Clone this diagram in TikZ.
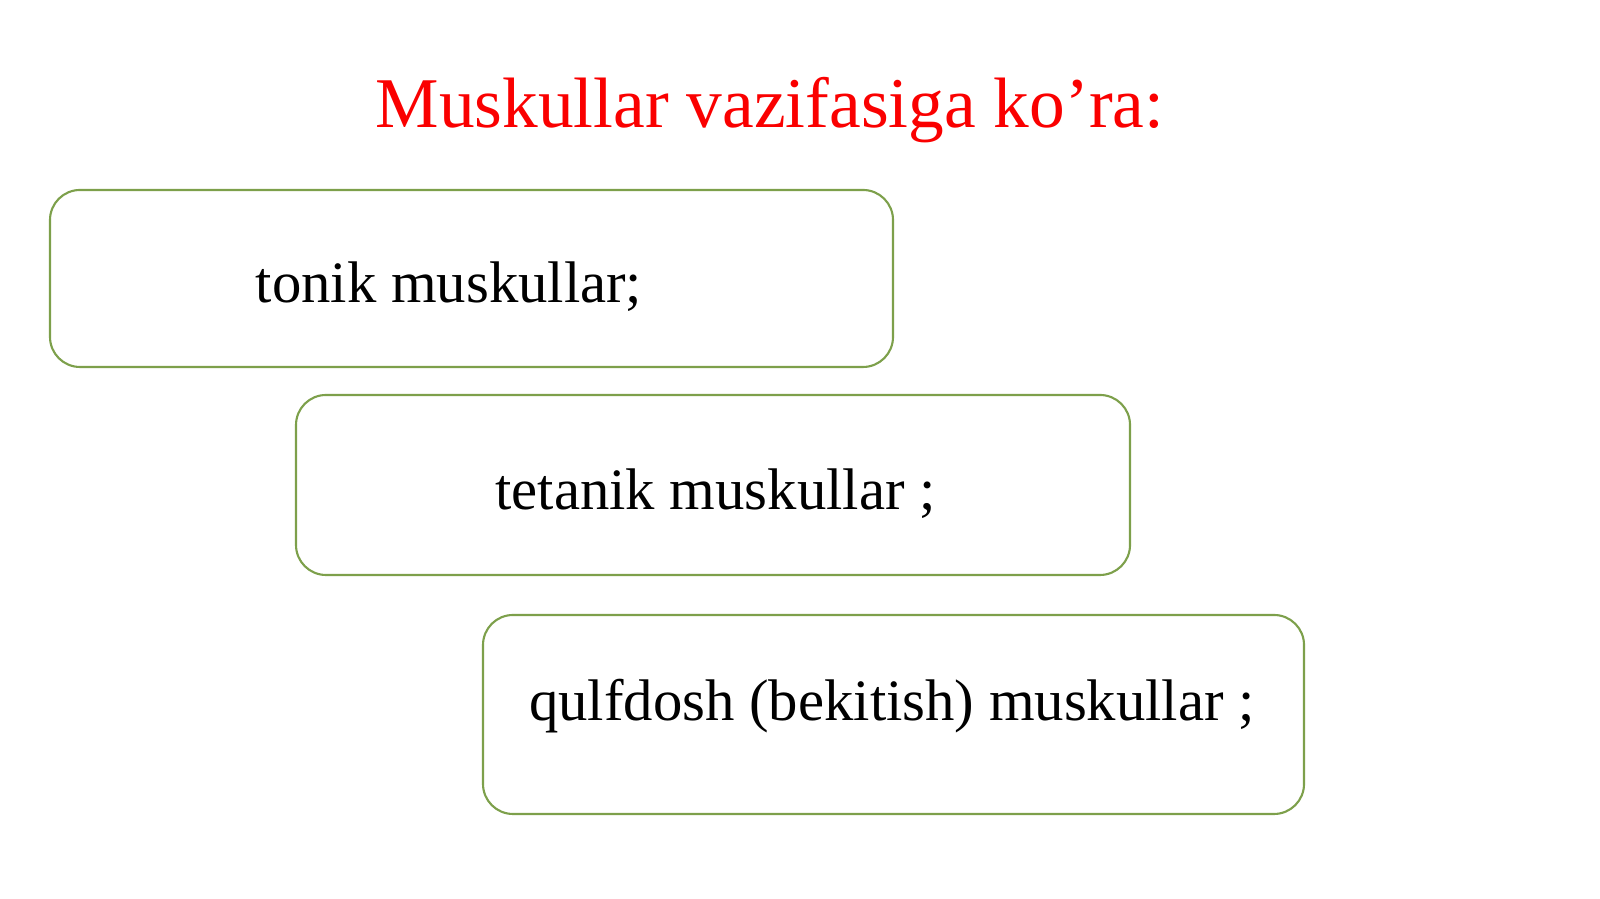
\documentclass[tikz,border=0pt]{standalone}
\usepackage{fontspec}
\setmainfont{Liberation Serif}
\usepackage{tikz}
\definecolor{boxgreen}{RGB}{125,160,75}
\definecolor{titlered}{RGB}{250,0,0}

\begin{document}
\begin{tikzpicture}
\tikzset{card/.style = {draw=boxgreen,line width=0.6pt,rounded corners=0.3cm,inner sep=0pt}}
\tikzset{label/.style = {font=\fontsize{16.7}{20}\selectfont,inner sep=0pt}}
\useasboundingbox (0,0) rectangle (16,8.99);
% title
\node[font=\fontsize{20.3}{24}\selectfont,text=titlered,anchor=base,inner sep=0pt] (title) at (7.70,7.71) {Muskullar vazifasiga ko’ra:};
% boxes
\node[card,minimum width=8.43cm,minimum height=1.77cm] (b1) at (4.715,6.205) {};
\node[card,minimum width=8.34cm,minimum height=1.80cm] (b2) at (7.13,4.14) {};
\node[card,minimum width=8.21cm,minimum height=1.99cm] (b3) at (8.935,1.845) {};
% texts
\node[label,anchor=base] (t1) at (4.49,5.96) {tonik muskullar;};
\node[label,anchor=base] (t2) at (7.155,3.89) {tetanik muskullar ;};
\node[label,anchor=base] (t3) at (8.92,1.78) {qulfdosh (bekitish) muskullar ;};
\end{tikzpicture}
\end{document}
